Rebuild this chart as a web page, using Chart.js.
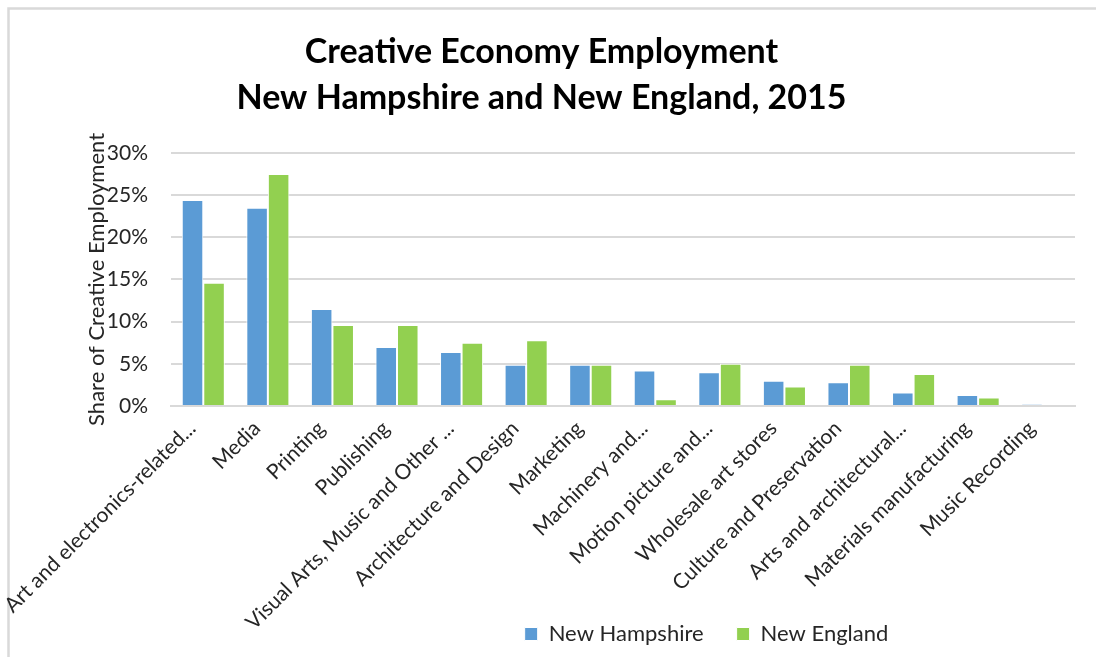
<!DOCTYPE html>
<html>
<head>
<meta charset="utf-8">
<script src="https://cdn.jsdelivr.net/npm/chart.js@4.4.1/dist/chart.umd.min.js"></script>
<style>
  html, body { margin: 0; padding: 0; background: #fff; }
  #wrap { width: 1096px; height: 657px; }
</style>
</head>
<body>
<div id="wrap"><canvas id="myChart" width="1096" height="657"></canvas></div>
<script>
// Catégories (libellés tronqués comme dans le graphique d'origine)
const categories = [
    'Art and electronics-related...',
    'Media',
    'Printing',
    'Publishing',
    'Visual Arts, Music and Other ...',
    'Architecture and Design',
    'Marketing',
    'Machinery and...',
    'Motion picture and...',
    'Wholesale art stores',
    'Culture and Preservation',
    'Arts and architectural...',
    'Materials manufacturing',
    'Music Recording'
];
// Part de l'emploi créatif (%)
const newHampshire = [24.4, 23.5, 11.5, 7.0, 6.4, 4.9, 4.9, 4.2, 4.0, 3.0, 2.8, 1.6, 1.3, 0.2];
const newEngland = [14.6, 27.5, 9.6, 9.6, 7.5, 7.8, 4.9, 0.8, 5.0, 2.3, 4.9, 3.8, 1.0, 0.0];
const yTicks = [0, 5, 10, 15, 20, 25, 30];

const FONT = 'Lato, "Open Sans", sans-serif';
const TEXT = '#262626';

// Cadre gris autour du graphique
const framePlugin = {
    id: 'frame',
    beforeDraw(chart) {
        const c = chart.ctx;
        c.save();
        c.strokeStyle = '#D9D9D9';
        c.lineWidth = 2.5;
        c.beginPath();
        c.moveTo(8.5, chart.height);
        c.lineTo(8.5, 8.5);
        c.lineTo(chart.width, 8.5);
        c.stroke();
        c.restore();
    }
};

// Ajustements : légende décalée vers la droite, libellés x non coupés
const layoutTweaks = {
    id: 'layoutTweaks',
    afterLayout(chart) {
        const lg = chart.legend;
        if (lg) {
            lg.left += 165;
            lg.right += 165;
            lg.top -= 2;
            lg.bottom -= 2;
        }
        chart.scales.x.bottom = chart.height;
    }
};

const ctx = document.getElementById('myChart').getContext('2d');
const myChart = new Chart(ctx, {
    type: 'bar',
    data: {
        labels: categories,
        datasets: [
            {
                label: 'New Hampshire',
                data: newHampshire,
                backgroundColor: '#5B9BD5',
                borderColor: '#ffffff',
                borderWidth: 1,
                borderSkipped: 'bottom'
            },
            {
                label: 'New England',
                data: newEngland,
                backgroundColor: '#92D050',
                borderColor: '#ffffff',
                borderWidth: 1,
                borderSkipped: 'bottom'
            }
        ]
    },
    options: {
        responsive: false,
        animation: false,
        devicePixelRatio: 1,
        layout: { padding: { left: 8, right: 21, top: 0, bottom: 0 } },
        datasets: {
            bar: { categoryPercentage: 0.667, barPercentage: 1.0 }
        },
        scales: {
            x: {
                grid: { display: false, drawTicks: false },
                border: { color: '#D9D9D9', width: 2 },
                ticks: {
                    color: TEXT,
                    font: { family: FONT, size: 21 },
                    minRotation: 45,
                    maxRotation: 45,
                    autoSkip: false,
                    padding: 10,
                    labelOffset: -11
                },
                afterFit(scale) { scale.height = 186; }
            },
            y: {
                min: 0,
                max: 30,
                afterBuildTicks(scale) { scale.ticks = yTicks.map(v => ({ value: v })); },
                grid: { color: '#D9D9D9', lineWidth: 2, drawTicks: false },
                border: { display: false },
                ticks: {
                    color: TEXT,
                    font: { family: FONT, size: 21 },
                    padding: 23,
                    callback: v => v + '%'
                },
                title: {
                    display: true,
                    text: 'Share of Creative Employment',
                    color: TEXT,
                    font: { family: FONT, size: 22 },
                    padding: { top: 76, bottom: 0 }
                },
                afterFit(scale) { scale.width = 163; }
            }
        },
        plugins: {
            title: {
                display: true,
                text: ['Creative Economy Employment', 'New Hampshire and New England, 2015'],
                color: '#000',
                font: { family: FONT, size: 34, weight: 'bold', lineHeight: 1.35 },
                padding: { top: 29, bottom: 32 }
            },
            legend: {
                position: 'bottom',
                labels: {
                    color: TEXT,
                    font: { family: FONT, size: 22 },
                    boxWidth: 13,
                    boxHeight: 13,
                    padding: 33
                }
            },
            tooltip: { enabled: false }
        }
    },
    plugins: [framePlugin, layoutTweaks]
});
</script>
</body>
</html>
